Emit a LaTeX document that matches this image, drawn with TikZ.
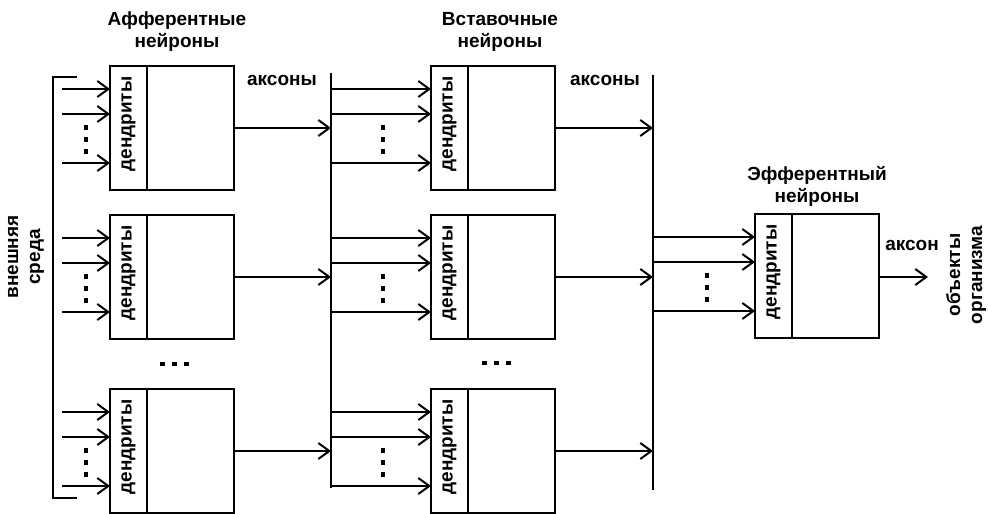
\documentclass[tikz,border=0pt]{standalone}
\usepackage{fontspec}
\setmainfont{Liberation Sans}
\usetikzlibrary{arrows.meta,calc}
\begin{document}
\begin{tikzpicture}[x=1pt,y=-1pt,
  line width=2pt,
  every node/.style={font=\bfseries\fontsize{19}{22}\selectfont},
  neuron/.style={draw,line width=2pt,minimum width=124pt,minimum height=124pt,inner sep=0pt,outer sep=0pt,rectangle},
  arr/.style={line width=2pt,-{Straight Barb[length=11pt,width=16pt,line width=2pt]}},
  dot/.style={fill=black}
]
\useasboundingbox (0,0) rectangle (988,514);
% neurons
\node[neuron] (A1) at (172,128) {};
\node[neuron] (A2) at (172,277) {};
\node[neuron] (A3) at (172,451) {};
\node[neuron] (I1) at (493,128) {};
\node[neuron] (I2) at (493,277) {};
\node[neuron] (I3) at (493,451) {};
\node[neuron] (E)  at (817,276) {};
% buses
\coordinate (b1t) at (331,73);
\coordinate (b1b) at (331,488);
\coordinate (b2t) at (653,75);
\coordinate (b2b) at (653,490);
\draw (b1t) -- (b1b);
\draw (b2t) -- (b2b);
% external bracket
\coordinate (bt) at (53,77);
\coordinate (bb) at (53,498);
\coordinate (btr) at (77,77);
\coordinate (bbr) at (77,498);
\draw (btr) -- (bt) -- (bb) -- (bbr);
% dividers and dendrite labels
\foreach \b in {A1,A2,A3,I1,I2,I3,E}{
  \draw ($(\b.north west)+(37,0)$) -- ($(\b.south west)+(37,0)$);
  \node[rotate=90] (\b d) at ($(\b.west)+(18.5,-4)$) {дендриты};
}
% inputs to afferent neurons
\foreach \b in {A1,A2,A3}{
  \foreach \o in {23,48,97}{
    \coordinate (\b in\o) at ($(\b.north west)+(-48,\o)$);
    \draw[arr] (\b in\o) -- ($(\b.north west)+(0,\o)$);
  }
  \foreach \o in {59,71,83}{
    \fill[dot] ($(\b.north west)+(-26,\o)$) rectangle ++(4,5);
  }
}
% inputs to interneurons
\foreach \b in {I1,I2,I3}{
  \foreach \o in {23,48,97}{
    \draw[arr] (b1t |- {$(\b.north west)+(0,\o)$}) -- ($(\b.north west)+(0,\o)$);
  }
  \foreach \o in {59,71,83}{
    \fill[dot] ($(\b.north west)+(-50,\o)$) rectangle ++(4,5);
  }
}
% inputs to efferent neuron
\foreach \o in {23,48,97}{
  \draw[arr] (b2t |- {$(E.north west)+(0,\o)$}) -- ($(E.north west)+(0,\o)$);
}
\foreach \o in {59,71,83}{
  \fill[dot] ($(E.north west)+(-50,\o)$) rectangle ++(4,5);
}
% axons
\foreach \b in {A1,A2,A3}{ \draw[arr] (\b.east) -- (b1t |- \b.east); }
\foreach \b in {I1,I2,I3}{ \draw[arr] (\b.east) -- (b2t |- \b.east); }
\coordinate (out) at (928,277);
\draw[arr] (E.east |- out) -- (out);
% horizontal dots
\foreach \x in {160,172,184}{ \fill[dot] (\x,362) rectangle ++(5,4); }
\foreach \x in {482,494,506}{ \fill[dot] (\x,361) rectangle ++(5,4); }
% labels
\node[align=center] (tA) at (177,32) {Афферентные\\нейроны};
\node[align=center] (tI) at (500,32) {Вставочные\\нейроны};
\node[align=center] (tE) at (817,186) {Эфферентный\\нейроны};
\node (ax1) at (282,80) {аксоны};
\node (ax2) at (605,80) {аксоны};
\node (ax3) at (912,245) {аксон};
\node[align=center,rotate=90] (env) at (26,257) {внешняя\\среда};
\node[align=center,rotate=90] (obj) at (966,275) {объекты\\организма};
\end{tikzpicture}
\end{document}
